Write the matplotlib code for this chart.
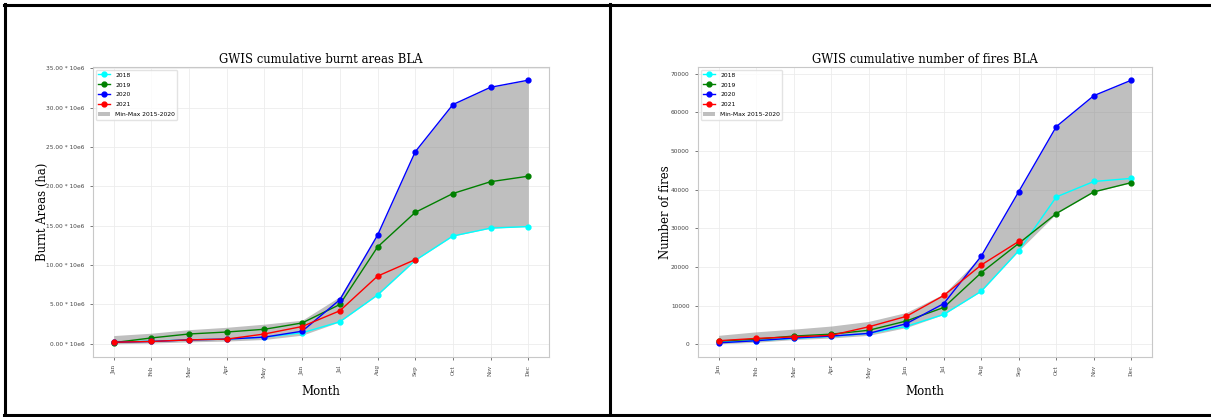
import matplotlib
matplotlib.use("Agg")
import matplotlib.pyplot as plt
from matplotlib.lines import Line2D
from matplotlib.ticker import FuncFormatter

months = ["Jan", "Feb", "Mar", "Apr", "May", "Jun", "Jul", "Aug", "Sep", "Oct", "Nov", "Dec"]

# Burnt areas (units of "10e6" ha as labelled)
ba_2018 = [0.2, 0.35, 0.5, 0.6, 0.85, 1.4, 2.8, 6.2, 10.6, 13.7, 14.7, 14.9]
ba_2019 = [0.15, 0.75, 1.25, 1.5, 1.85, 2.65, 5.0, 12.3, 16.7, 19.1, 20.6, 21.3]
ba_2020 = [0.2, 0.3, 0.5, 0.6, 0.85, 1.6, 5.6, 13.8, 24.4, 30.4, 32.6, 33.5]
ba_2021 = [0.2, 0.3, 0.5, 0.6, 1.25, 2.2, 4.2, 8.6, 10.7]
ba_max = [1.05, 1.35, 1.8, 2.1, 2.5, 3.0, 6.0, 13.8, 24.4, 30.4, 32.6, 33.5]
ba_min = [0.0, 0.1, 0.25, 0.35, 0.55, 1.1, 2.8, 6.2, 10.6, 13.7, 14.7, 14.9]

# Number of fires
nf_2018 = [500, 900, 1500, 2000, 2800, 4600, 7700, 13700, 24200, 38100, 42100, 42900]
nf_2019 = [800, 1300, 2100, 2600, 3600, 6000, 9500, 18500, 26100, 33800, 39400, 41800]
nf_2020 = [350, 900, 1600, 2100, 2800, 5300, 10500, 22800, 39500, 56300, 64300, 68300]
nf_2021 = [900, 1500, 1900, 2300, 4500, 7200, 12600, 20500, 26600]
nf_max = [2300, 3200, 3900, 4700, 5900, 8200, 13000, 22800, 39500, 56300, 64300, 68300]
nf_min = [100, 500, 1200, 1600, 2300, 4300, 7700, 13700, 24200, 33800, 39400, 41800]

years = ["2018", "2019", "2020", "2021"]
colors = ["cyan", "green", "blue", "red"]

W, H = 1211, 417
fig = plt.figure(figsize=(W / 100, H / 100), dpi=100)
fig.patch.set_facecolor("white")

serif = "DejaVu Serif"


def panel(rect, series, vmin, vmax, title, ylabel, fmt, ylabel_x):
    ax = fig.add_axes(rect)
    x = list(range(12))
    ax.fill_between(x, vmin, vmax, color="grey", alpha=0.5, lw=0,
                    label="Min-Max 2015-2020", zorder=1)
    for lab, col, vals in zip(years, colors, series):
        ax.plot(range(len(vals)), vals, color=col, marker="o", ms=3.5,
                lw=1.0, label=lab, zorder=3)
    ax.set_xticks(x)
    ax.set_xticklabels(months, rotation=90, fontsize=4, family=serif)
    ax.yaxis.set_major_formatter(FuncFormatter(fmt))
    ax.tick_params(axis="y", labelsize=4.2, length=2.5, width=0.5, colors="#444444")
    ax.tick_params(axis="x", length=2.5, width=0.5, colors="#444444")
    ax.grid(True, color="#ececec", lw=0.6)
    ax.set_axisbelow(True)
    for s in ax.spines.values():
        s.set_color("#c8c8c8")
        s.set_linewidth(0.8)
    ax.set_title(title, fontsize=8.4, family=serif, pad=3)
    ax.set_xlabel("Month", fontsize=8.5, family=serif)
    ax.xaxis.set_label_coords(0.5, -0.095)
    ax.set_ylabel(ylabel, fontsize=8.4, family=serif)
    ax.yaxis.set_label_coords(ylabel_x, 0.5)
    h, l = ax.get_legend_handles_labels()
    order = [1, 2, 3, 4, 0]
    ax.legend([h[i] for i in order], [l[i] for i in order], loc="upper left",
              fontsize=4.3, framealpha=0.8, edgecolor="#dddddd",
              borderpad=0.4, labelspacing=0.8, handlelength=2.0)
    return ax


ax1 = panel([93 / W, 1 - 357 / H, (549 - 93) / W, (357 - 67) / H],
            [ba_2018, ba_2019, ba_2020, ba_2021], ba_min, ba_max,
            "GWIS cumulative burnt areas BLA", "Burnt Areas (ha)",
            lambda v, p: f"{v:.2f} * 10e6", -0.097)
ax1.set_yticks([0, 5, 10, 15, 20, 25, 30, 35])

ax2 = panel([698 / W, 1 - 357 / H, (1152 - 698) / W, (357 - 67) / H],
            [nf_2018, nf_2019, nf_2020, nf_2021], nf_min, nf_max,
            "GWIS cumulative number of fires BLA", "Number of fires",
            lambda v, p: f"{v:.0f}", -0.057)
ax2.set_yticks([0, 10000, 20000, 30000, 40000, 50000, 60000, 70000])

# composite panel borders
lw = 2.2
def hline(y, x0, x1):
    fig.add_artist(Line2D([x0 / W, x1 / W], [1 - y / H, 1 - y / H], color="black", lw=lw,
                          transform=fig.transFigure))
def vline(x, y0, y1):
    fig.add_artist(Line2D([x / W, x / W], [1 - y0 / H, 1 - y1 / H], color="black", lw=lw,
                          transform=fig.transFigure))

hline(5, 4, W + 5)
hline(414.5, 4, W + 5)
vline(5, 4, 416)
vline(610, 4, 416)

fig.savefig("out.png", dpi=100)
